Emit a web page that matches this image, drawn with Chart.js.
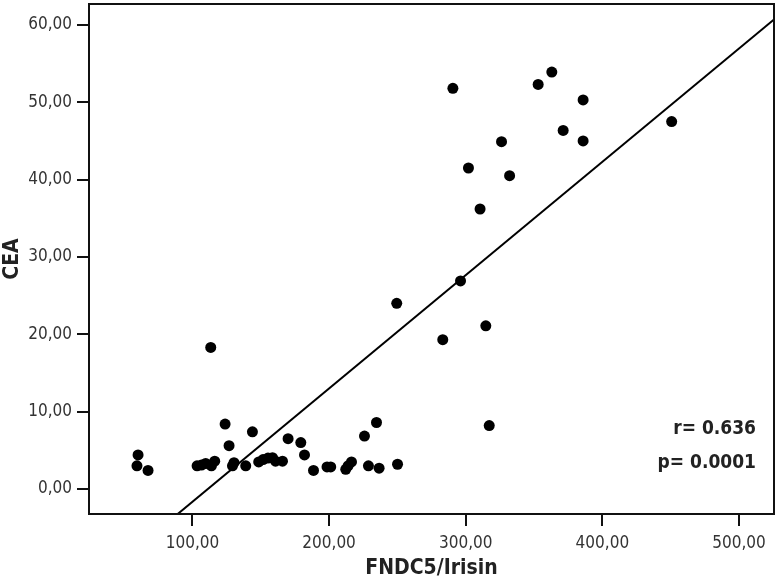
<!DOCTYPE html>
<html>
<head>
<meta charset="utf-8">
<script src="https://cdn.jsdelivr.net/npm/chart.js@4.4.1/dist/chart.umd.min.js"></script>
<style>
  html, body { margin: 0; padding: 0; background: #fff; }
  #wrap { width: 776px; height: 581px; }
</style>
</head>
<body>
<div id="wrap"><canvas id="scatter" width="776" height="581"></canvas></div>
<script>
// FNDC5/Irisin vs CEA
const irisin = [60.2, 59.4, 67.5, 103.4, 106.6, 109.7, 113.9, 116.3, 113.4, 123.9,
    126.8, 129.3, 130.4, 139.0, 143.9, 148.5, 151.7, 155.3, 158.6, 160.8,
    165.9, 170.0, 179.3, 182.0, 188.6, 198.5, 201.2, 212.2, 213.9, 216.4,
    225.9, 234.7, 228.8, 236.6, 250.1, 249.5, 283.2, 296.2, 314.7, 317.2,
    290.6, 302.0, 310.5, 326.2, 332.1, 353.0, 363.0, 371.3, 385.9, 385.9, 450.7];
const cea = [4.4, 3.0, 2.4, 3.0, 3.1, 3.3, 3.0, 3.6, 18.3, 8.4,
    5.6, 3.0, 3.4, 3.0, 7.4, 3.5, 3.8, 4.0, 4.05, 3.6,
    3.6, 6.5, 6.0, 4.4, 2.4, 2.85, 2.85, 2.55, 3.0, 3.5,
    6.85, 8.6, 3.0, 2.7, 3.2, 24.0, 19.3, 26.9, 21.1, 8.2,
    51.8, 41.5, 36.2, 44.9, 40.5, 52.3, 53.9, 46.35, 50.3, 45.0, 47.5];

// fit line as drawn in the figure
const fitSlope = 0.1465;
const fitIntercept = -16.3;

const xRange = [24.3, 525.6];
const yRange = [-3.23, 62.7];
const xTickVals = [100, 200, 300, 400, 500];
const yTickVals = [0, 10, 20, 30, 40, 50, 60];
const statsText = ['r= 0.636', 'p= 0.0001'];

let points = [];
for (let i = 0; i < irisin.length; i++) {
    points.push({ x: irisin[i], y: cea[i] });
}
let fitLine = xRange.map(v => ({ x: v, y: fitSlope * v + fitIntercept }));

const narrow = '"Liberation Sans Narrow", "DejaVu Sans Condensed", "Roboto Condensed", sans-serif';
const fmt = v => Number(v).toFixed(2).replace('.', ',');

const boxAndStats = {
    id: 'boxAndStats',
    afterDraw(chart) {
        const { ctx, chartArea: a } = chart;
        ctx.save();
        ctx.strokeStyle = '#111';
        ctx.lineWidth = 2;
        ctx.strokeRect(a.left, a.top, a.right - a.left, a.bottom - a.top);
        ctx.fillStyle = '#222';
        ctx.font = 'bold 19px ' + narrow;
        ctx.textAlign = 'right';
        ctx.textBaseline = 'alphabetic';
        ctx.fillText(statsText[0], 756, 434);
        ctx.fillText(statsText[1], 756, 468);
        ctx.restore();
    }
};

new Chart(document.getElementById('scatter'), {
    type: 'scatter',
    data: {
        datasets: [
            {
                label: 'CEA',
                data: points,
                backgroundColor: '#000',
                borderWidth: 0,
                pointRadius: 5.5,
                pointHoverRadius: 5.5
            },
            {
                type: 'line',
                label: 'fit',
                data: fitLine,
                borderColor: '#000',
                borderWidth: 2,
                pointRadius: 0,
                fill: false
            }
        ]
    },
    options: {
        responsive: false,
        animation: false,
        layout: { autoPadding: false, padding: { top: 4, right: 2, left: 0, bottom: 0 } },
        plugins: { legend: { display: false }, tooltip: { enabled: false } },
        scales: {
            x: {
                type: 'linear',
                min: xRange[0],
                max: xRange[1],
                afterBuildTicks: s => { s.ticks = xTickVals.map(v => ({ value: v })); },
                afterFit: s => { s.height = 67; s.paddingLeft = 0; s.paddingRight = 0; },
                grid: { drawOnChartArea: false, drawTicks: true, tickLength: 12, tickColor: '#111', lineWidth: 2 },
                border: { display: false },
                ticks: {
                    color: '#333',
                    font: { family: narrow, size: 17 },
                    padding: 7,
                    maxRotation: 0,
                    callback: v => fmt(v)
                },
                title: {
                    display: true,
                    text: 'FNDC5/Irisin',
                    color: '#222',
                    font: { family: narrow, size: 21, weight: 'bold' },
                    padding: { top: 0, bottom: 0 }
                }
            },
            y: {
                type: 'linear',
                min: yRange[0],
                max: yRange[1],
                afterBuildTicks: s => { s.ticks = yTickVals.map(v => ({ value: v })); },
                afterFit: s => { s.width = 89; s.paddingTop = 0; s.paddingBottom = 0; },
                grid: { drawOnChartArea: false, drawTicks: true, tickLength: 12, tickColor: '#111', lineWidth: 2 },
                border: { display: false },
                ticks: {
                    color: '#333',
                    font: { family: narrow, size: 17 },
                    padding: 5,
                    callback: v => fmt(v)
                },
                title: {
                    display: true,
                    text: 'CEA',
                    color: '#222',
                    font: { family: narrow, size: 21, weight: 'bold' },
                    padding: { top: 0, bottom: 0 }
                }
            }
        }
    },
    plugins: [boxAndStats]
});
</script>
</body>
</html>
